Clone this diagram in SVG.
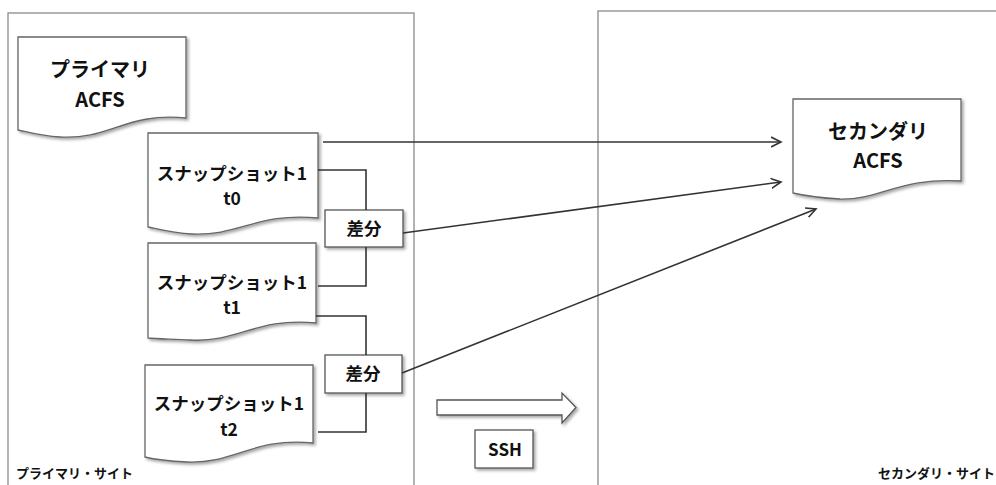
<svg xmlns="http://www.w3.org/2000/svg" width="996" height="485" viewBox="0 0 996 485">
<defs>
<filter id="sh" x="-10%" y="-10%" width="130%" height="130%">
<feDropShadow dx="2" dy="2" stdDeviation="1.5" flood-color="#000" flood-opacity="0.35"/>
</filter>
<marker id="arr" markerWidth="12" markerHeight="12" refX="10" refY="5" orient="auto" markerUnits="userSpaceOnUse" viewBox="0 0 12 10">
<path d="M0,0 L10,5 L0,10" fill="none" stroke="#333" stroke-width="1.6"/>
</marker>
<style>
.site{fill:#fff;stroke:#8a8a8a;stroke-width:1.3}
.doc{fill:#fff;stroke:#666;stroke-width:1.3;filter:url(#sh)}
.box{fill:#fff;stroke:#555;stroke-width:1.3;filter:url(#sh)}
.t{font-family:"Noto Sans CJK JP","Noto Sans",sans-serif;font-weight:bold;fill:#111;text-anchor:middle}
.big{font-size:20px}
.mid{font-size:17.5px}
.sm{font-size:13px}
.ln{fill:none;stroke:#333;stroke-width:1.6}
</style>
</defs>
<rect width="996" height="485" fill="#fff"/>
<g id="primary-site">
<rect class="site" x="8" y="13" width="406" height="490"/>
<text class="t sm" x="16" y="478" style="text-anchor:start">プライマリ・サイト</text>
</g>
<g id="secondary-site">
<rect class="site" x="598" y="11" width="420" height="490"/>
<text class="t sm" x="878" y="478" style="text-anchor:start">セカンダリ・サイト</text>
</g>
<g id="primary-acfs">
<path class="doc" d="M18,37 H186 V118 C126,112 110,140 60,137 C40,136 28,132 18,130 Z"/>
<text class="t big" x="100" y="77">プライマリ</text>
<text class="t big" x="100" y="107">ACFS</text>
</g>
<g id="snap-t0">
<path class="doc" d="M148,133 H318 V218 C258,212 240,236 192,234 C172,233 158,229 148,227 Z"/>
<text class="t mid" x="232" y="180">スナップショット1</text>
<text class="t mid" x="232" y="205">t0</text>
</g>
<g id="snap-t1">
<path class="doc" d="M148,243 H316 V323 C256,317 238,343 190,340 C170,339 156,339 148,338 Z"/>
<text class="t mid" x="232" y="289">スナップショット1</text>
<text class="t mid" x="232" y="314">t1</text>
</g>
<g id="snap-t2">
<path class="doc" d="M145,365 H313 V443 C253,437 235,464 187,462 C167,461 153,459 145,457 Z"/>
<text class="t mid" x="229" y="410">スナップショット1</text>
<text class="t mid" x="229" y="436">t2</text>
</g>
<g id="diff1">
<rect class="box" x="325" y="210" width="78" height="37"/>
<text class="t mid" x="364" y="235">差分</text>
</g>
<g id="diff2">
<rect class="box" x="325" y="355" width="77" height="38"/>
<text class="t mid" x="363" y="380">差分</text>
</g>
<g id="secondary-acfs">
<path class="doc" d="M793,99 H961 V181 C901,177 880,200 840,199 C820,198 806,196 793,193 Z"/>
<text class="t big" x="878" y="139">セカンダリ</text>
<text class="t big" x="878" y="168">ACFS</text>
</g>
<g id="ssh-arrow">
<path d="M437,400 H562 V393 L576,407.5 L562,423 V415 H437 Z" fill="#fff" stroke="#555" stroke-width="1.3" filter="url(#sh)"/>
</g>
<g id="ssh">
<rect class="box" x="475" y="430" width="58" height="38"/>
<text class="t" x="505" y="456" style="font-size:17px">SSH</text>
</g>
<g id="connectors">
<path class="ln" d="M323,142 H781" marker-end="url(#arr)"/>
<path class="ln" d="M318,170 H366 V210"/>
<path class="ln" d="M366,247 V286 H318"/>
<path class="ln" d="M316,316 H366 V355"/>
<path class="ln" d="M366,393 V432 H318"/>
<path class="ln" d="M403,233 L781,182" marker-end="url(#arr)"/>
<path class="ln" d="M402,373 L816,209" marker-end="url(#arr)"/>
</g>
</svg>
